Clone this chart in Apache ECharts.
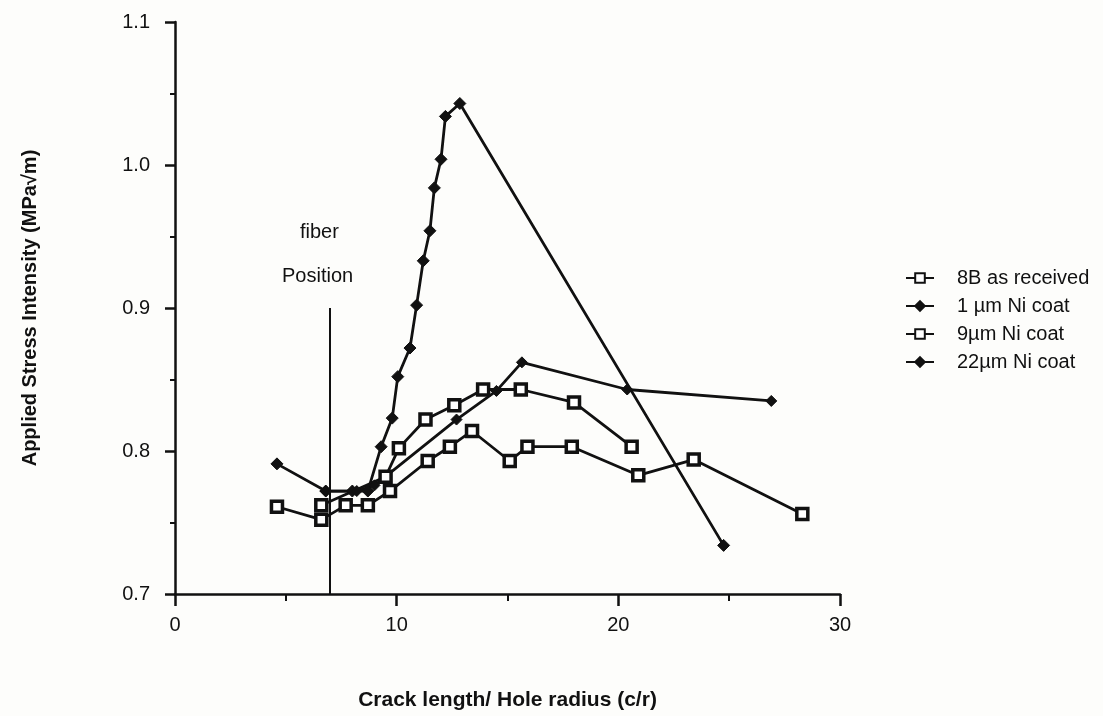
<!DOCTYPE html>
<html>
<head>
<meta charset="utf-8">
<script src="https://cdn.jsdelivr.net/npm/echarts@6/dist/echarts.min.js"></script>
<style>
  html, body { margin: 0; padding: 0; background: #fdfdfb; }
  #chart { width: 1103px; height: 716px; }
</style>
</head>
<body>
<div id="chart"></div>
<script>
// values, [c/r, stress intensity]
const asReceived = [
  [6.6, 0.762], [9.5, 0.782], [10.1, 0.802], [11.3, 0.822], [12.6, 0.832],
  [13.9, 0.843], [15.6, 0.843], [18.0, 0.834], [20.6, 0.803]
];
const coat1um = [
  [4.6, 0.791], [6.8, 0.772], [8.0, 0.772], [8.7, 0.772], [9.3, 0.803],
  [9.8, 0.823], [10.05, 0.852], [10.6, 0.872], [10.9, 0.902], [11.2, 0.933],
  [11.5, 0.954], [11.7, 0.984], [12.0, 1.004], [12.2, 1.034], [12.85, 1.043],
  [24.75, 0.734]
];
const coat9um = [
  [4.6, 0.761], [6.6, 0.752], [7.7, 0.762], [8.7, 0.762], [9.7, 0.772],
  [11.4, 0.793], [12.4, 0.803], [13.4, 0.814], [15.1, 0.793], [15.9, 0.803],
  [17.9, 0.803], [20.9, 0.783], [23.4, 0.794], [28.3, 0.756]
];
const coat22um = [
  [6.8, 0.772], [8.2, 0.772], [9.0, 0.776], [12.7, 0.822], [14.5, 0.842],
  [15.65, 0.862], [20.4, 0.843], [26.9, 0.835]
];
const seriesNames = ['8B as received', '1 \u00b5m Ni coat', '9\u00b5m Ni coat', '22\u00b5m Ni coat'];
const fiberPosition = 7;

const chart = echarts.init(document.getElementById('chart'));

const FONT = 'Liberation Sans';
const squareStyle = { color: '#fff', borderColor: '#111', borderWidth: 3.5 };
const diamondStyle = { color: '#111', borderColor: '#111', borderWidth: 1 };

function makeSeries(name, data, symbol, size, itemStyle) {
  return {
    name: name,
    type: 'line',
    data: data,
    symbol: symbol,
    symbolSize: size,
    showAllSymbol: true,
    lineStyle: { color: '#111', width: 2.8 },
    itemStyle: itemStyle,
    z: 3
  };
}

const series = [
  makeSeries(seriesNames[0], asReceived, 'rect', 11, squareStyle),
  makeSeries(seriesNames[1], coat1um, 'diamond', 12, diamondStyle),
  makeSeries(seriesNames[2], coat9um, 'rect', 11, squareStyle),
  makeSeries(seriesNames[3], coat22um, 'diamond', 11, diamondStyle)
];

// fiber position marker
series[0].markLine = {
  symbol: 'none',
  silent: true,
  label: { show: false },
  lineStyle: { color: '#111', width: 2, type: 'solid' },
  data: [[{ coord: [fiberPosition, 0.7] }, { coord: [fiberPosition, 0.9] }]]
};

const option = {
  backgroundColor: '#fdfdfb',
  animation: false,
  grid: { left: 175, right: 263, top: 22, bottom: 112 },
  legend: {
    orient: 'vertical',
    left: 900,
    top: 263,
    itemWidth: 28,
    itemHeight: 12,
    itemGap: 8,
    data: seriesNames,
    textStyle: { fontFamily: FONT, fontSize: 20, lineHeight: 20, color: '#111', padding: [0, 0, 0, 18] }
  },
  xAxis: {
    type: 'value',
    min: 0,
    max: 30,
    interval: 10,
    name: 'Crack length/ Hole radius (c/r)',
    nameLocation: 'middle',
    nameGap: 96,
    nameTextStyle: { fontFamily: FONT, fontWeight: 'bold', fontSize: 21, color: '#111' },
    axisLine: { lineStyle: { color: '#111', width: 2.5 } },
    axisTick: { length: 12, lineStyle: { color: '#111', width: 2.5 } },
    minorTick: { show: true, splitNumber: 2, length: 7, lineStyle: { color: '#111', width: 2 } },
    splitLine: { show: false },
    axisLabel: { margin: 21, fontFamily: FONT, fontSize: 20, color: '#111' }
  },
  yAxis: {
    type: 'value',
    min: 0.7,
    max: 1.1,
    interval: 0.1,
    name: 'Applied Stress Intensity (MPa\u221am)',
    nameLocation: 'middle',
    nameGap: 135,
    nameTextStyle: { fontFamily: FONT, fontWeight: 'bold', fontSize: 20, color: '#111' },
    axisLine: { show: true, lineStyle: { color: '#111', width: 2.5 } },
    axisTick: { show: true, length: 10, lineStyle: { color: '#111', width: 2.5 } },
    minorTick: { show: true, splitNumber: 2, length: 5, lineStyle: { color: '#111', width: 2 } },
    splitLine: { show: false },
    axisLabel: {
      margin: 25,
      fontFamily: FONT,
      fontSize: 20,
      color: '#111',
      formatter: function (v) { return v.toFixed(1); }
    }
  },
  graphic: [
    { type: 'text', left: 300, top: 222, style: { text: 'fiber', font: '20px "Liberation Sans"', fill: '#111' } },
    { type: 'text', left: 282, top: 266, style: { text: 'Position', font: '20px "Liberation Sans"', fill: '#111' } }
  ],
  series: series
};

chart.setOption(option);
</script>
</body>
</html>
